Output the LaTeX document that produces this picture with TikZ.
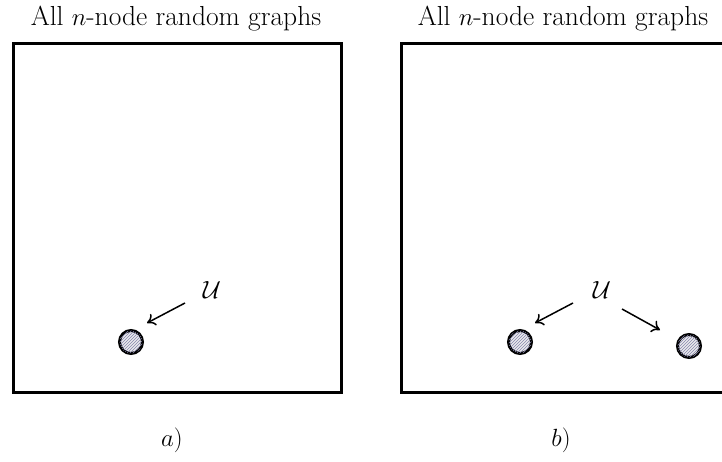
\documentclass[tikz,border=0pt]{standalone}
\usetikzlibrary{arrows.meta,patterns,calc}
\begin{document}
\begin{tikzpicture}[x=1pt,y=-1pt,
  frame/.style={draw=black,line width=3pt},
  title/.style={font=\fontsize{27.5}{32}\selectfont,anchor=base},
  ulabel/.style={font=\fontsize{36}{42}\selectfont,inner sep=0pt},
  sublabel/.style={font=\fontsize{36}{42}\selectfont,inner sep=0pt},
  vertex/.style={circle,draw=black,line width=3pt,minimum size=23pt,inner sep=0pt,
     fill=blue!5!gray!15,postaction={pattern=north east lines,pattern color=blue!20!gray!80}},
  arr/.style={line width=1.5pt,-{To[length=8pt,width=13pt]}}]
\clip (0,0) rectangle (722,462);
% frames
\draw[frame] (13,44) rectangle (341,392);
\draw[frame] (401,44) rectangle (735,392);
% titles
\node[title] (t1) at (176,26) {All $n$-node random graphs};
\node[title] (t2) at (563,26) {All $n$-node random graphs};
% panel a
\node[vertex] (c1) at (131,342) {};
\node[ulabel] (U1) at (212,290) {$\mathcal{U}$};
\draw[arr] ($(U1.center)+(-27,13)$) -- ($(c1.center)+(16,-19)$);
% panel b
\node[vertex] (c2) at (520,342) {};
\node[vertex] (c3) at (689,346) {};
\node[ulabel] (U2) at (602,290) {$\mathcal{U}$};
\draw[arr] ($(U2.center)+(-29,13)$) -- ($(c2.center)+(15,-19)$);
\draw[arr] ($(U2.center)+(20,19)$) -- ($(c3.center)+(-29,-16)$);
% sub labels
\node[sublabel] (la) at (172,440) {$a)$};
\node[sublabel] (lb) at (561,440) {$b)$};
\end{tikzpicture}
\end{document}
